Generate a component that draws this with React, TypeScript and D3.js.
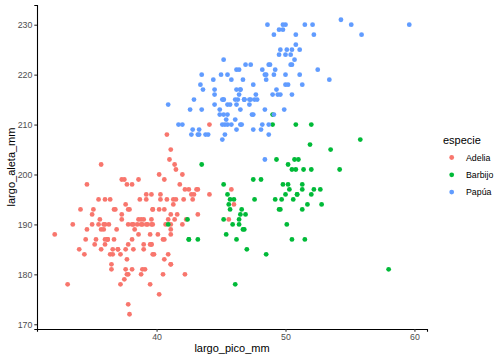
import React, { useEffect, useRef } from 'react'
import * as d3 from 'd3'

// [largo_pico_mm, largo_aleta_mm]
const adelia: [number, number][] = [
  [39.1, 181], [39.5, 186], [40.3, 195], [36.7, 193], [39.3, 190], [38.9, 181], [39.2, 195], [34.1, 193],
  [42.0, 190], [37.8, 186], [37.8, 180], [41.1, 182], [38.6, 191], [34.6, 198], [36.6, 185], [38.7, 195],
  [42.5, 197], [34.4, 184], [46.0, 194], [37.8, 174], [37.7, 180], [35.9, 189], [38.2, 185], [38.8, 180],
  [35.3, 187], [40.6, 183], [40.5, 187], [37.9, 172], [40.5, 180], [39.5, 178], [37.2, 178], [39.5, 188],
  [40.9, 184], [36.4, 195], [39.2, 196], [38.8, 190], [42.2, 180], [37.6, 181], [39.8, 184], [36.5, 182],
  [40.8, 195], [36.0, 186], [44.1, 196], [37.0, 185], [39.6, 190], [41.1, 182], [37.5, 179], [36.0, 190],
  [42.3, 191], [39.6, 186], [40.1, 188], [35.0, 190], [42.0, 200], [34.5, 187], [41.4, 191], [39.0, 186],
  [40.6, 193], [36.5, 181], [37.6, 194], [35.7, 185], [41.3, 195], [37.6, 185], [41.1, 192], [36.4, 184],
  [41.6, 192], [35.5, 195], [41.1, 188], [35.9, 190], [41.8, 198], [33.5, 190], [39.7, 190], [39.6, 196],
  [45.8, 197], [35.5, 190], [42.8, 195], [40.9, 191], [37.2, 184], [36.2, 187], [42.1, 195], [34.6, 189],
  [42.9, 196], [36.7, 187], [35.1, 193], [37.3, 191], [41.3, 194], [36.3, 190], [36.9, 189], [38.3, 189],
  [38.9, 190], [35.7, 202], [41.1, 205], [34.0, 185], [39.6, 186], [36.2, 187], [40.8, 208], [38.1, 190],
  [40.3, 196], [33.1, 178], [43.2, 192], [35.0, 192], [41.0, 203], [37.7, 183], [37.8, 190], [37.9, 193],
  [39.7, 184], [38.6, 199], [38.2, 190], [38.1, 181], [43.2, 197], [38.1, 198], [45.6, 191], [39.7, 193],
  [42.2, 197], [39.6, 191], [42.7, 196], [38.6, 188], [37.3, 199], [35.7, 189], [41.1, 189], [36.2, 187],
  [37.7, 198], [40.2, 176], [41.4, 202], [35.2, 186], [40.6, 199], [38.8, 191], [41.5, 195], [39.0, 191],
  [44.1, 210], [38.5, 190], [43.1, 197], [36.8, 193], [37.5, 199], [38.1, 187], [41.1, 190], [35.6, 191],
  [40.2, 200], [37.0, 185], [39.7, 193], [40.2, 193], [40.6, 187], [32.1, 188], [40.7, 190], [37.3, 192],
  [39.0, 185], [39.2, 190], [36.6, 184], [36.0, 195], [37.8, 193], [36.0, 187], [41.5, 201],
]

const barbijo: [number, number][] = [
  [46.5, 192], [50.0, 196], [51.3, 193], [45.4, 188], [52.7, 197], [45.2, 198], [46.1, 178], [51.3, 197],
  [46.0, 195], [51.3, 198], [46.6, 193], [51.7, 194], [47.0, 185], [52.0, 201], [45.9, 190], [50.5, 201],
  [50.3, 197], [58.0, 181], [46.4, 190], [49.2, 195], [42.4, 191], [48.5, 184], [43.2, 187], [50.6, 195],
  [46.7, 189], [52.0, 196], [50.5, 187], [49.5, 193], [46.4, 191], [52.8, 194], [40.9, 190], [54.2, 201],
  [42.5, 187], [51.0, 203], [49.7, 195], [47.5, 199], [47.6, 195], [52.0, 210], [46.9, 192], [53.5, 205],
  [49.0, 210], [46.2, 187], [50.9, 196], [45.5, 196], [50.9, 196], [50.8, 201], [50.1, 190], [49.0, 212],
  [51.5, 187], [49.8, 198], [48.1, 199], [51.4, 201], [45.7, 193], [50.7, 203], [42.5, 187], [52.2, 197],
  [45.2, 191], [49.3, 203], [50.2, 202], [45.6, 194], [51.9, 206], [46.8, 189], [45.7, 195], [55.8, 207],
  [43.5, 202], [49.6, 193], [50.8, 210], [50.2, 198],
]

const papua: [number, number][] = [
  [46.1, 211], [50.0, 230], [48.7, 210], [50.0, 218], [47.6, 215], [46.5, 210], [45.4, 211], [46.7, 219],
  [43.3, 209], [46.8, 215], [40.9, 214], [49.0, 216], [45.5, 214], [48.4, 213], [45.8, 210], [49.3, 217],
  [42.0, 210], [49.2, 221], [46.2, 209], [48.7, 222], [50.2, 218], [45.1, 215], [46.5, 213], [46.3, 215],
  [42.9, 215], [46.1, 215], [44.5, 216], [47.8, 215], [48.2, 210], [50.0, 220], [47.3, 222], [42.8, 209],
  [45.1, 207], [59.6, 230], [49.1, 220], [48.4, 220], [42.6, 213], [44.4, 219], [44.0, 208], [48.7, 208],
  [42.7, 208], [49.6, 225], [45.3, 210], [49.6, 216], [50.5, 222], [43.6, 217], [45.5, 210], [50.5, 225],
  [44.9, 213], [45.2, 215], [46.6, 210], [48.5, 220], [45.1, 210], [50.1, 225], [46.5, 217], [45.0, 220],
  [43.8, 208], [45.5, 220], [43.2, 208], [50.4, 224], [45.3, 208], [46.2, 221], [45.7, 214], [54.3, 231],
  [45.8, 219], [49.8, 230], [46.2, 214], [49.5, 229], [43.5, 220], [50.7, 223], [47.7, 216], [46.4, 221],
  [48.2, 221], [46.5, 217], [46.4, 216], [48.6, 230], [47.5, 209], [51.1, 220], [45.2, 215], [45.2, 223],
  [49.1, 212], [52.5, 221], [47.4, 212], [50.0, 224], [44.9, 212], [50.8, 228], [43.4, 218], [51.3, 218],
  [47.5, 212], [52.1, 230], [47.5, 218], [52.2, 228], [45.5, 212], [49.5, 224], [44.5, 214], [50.8, 226],
  [49.4, 216], [46.9, 222], [48.4, 203], [51.1, 225], [48.5, 219], [55.9, 228], [47.2, 215], [49.1, 228],
  [47.3, 215], [46.8, 215], [41.7, 210], [53.4, 219], [43.3, 208], [48.1, 209], [50.5, 216], [49.8, 229],
  [43.5, 213], [51.5, 230], [46.2, 217], [55.1, 230], [44.5, 217], [48.8, 222], [47.2, 214], [46.8, 215],
  [50.4, 222], [45.2, 212], [49.9, 213],
]

const especies = ['Adelia', 'Barbijo', 'Papúa']
const colores = ['#F8766D', '#00BA38', '#619CFF']
const xTicks = [40, 50, 60]
const yTicks = [170, 180, 190, 200, 210, 220, 230]

export default function App() {
  const ref = useRef<SVGSVGElement>(null)

  useEffect(() => {
    const width = 504
    const height = 360
    const margin = { top: 5, right: 77, bottom: 31, left: 37 }
    const font = '"Liberation Sans", Arial, sans-serif'

    const svg = d3.select(ref.current)
    svg.selectAll('*').remove()

    const series = [adelia, barbijo, papua]
    const all = series.flat()
    const xExt = d3.extent(all, d => d[0]) as [number, number]
    const yExt = d3.extent(all, d => d[1]) as [number, number]
    const xPad = (xExt[1] - xExt[0]) * 0.05
    const yPad = (yExt[1] - yExt[0]) * 0.05

    const x = d3.scaleLinear()
      .domain([xExt[0] - xPad, xExt[1] + xPad])
      .range([margin.left, width - margin.right])
    const y = d3.scaleLinear()
      .domain([yExt[0] - yPad, yExt[1] + yPad])
      .range([height - margin.bottom, margin.top])

    const chart = svg.append('g').style('font-family', font)

    series.forEach((pts, i) => {
      chart.append('g')
        .selectAll('circle')
        .data(pts)
        .enter()
        .append('circle')
        .attr('cx', d => x(d[0]))
        .attr('cy', d => y(d[1]))
        .attr('r', 2.4)
        .attr('fill', colores[i])
    })

    const xAxis = chart.append('g')
      .attr('transform', `translate(0, ${height - margin.bottom})`)
      .call(d3.axisBottom(x).tickValues(xTicks).tickSize(2.7).tickPadding(2))
    const yAxis = chart.append('g')
      .attr('transform', `translate(${margin.left}, 0)`)
      .call(d3.axisLeft(y).tickValues(yTicks).tickSize(2.7).tickPadding(2))

    ;[xAxis, yAxis].forEach(a => {
      a.select('.domain').attr('stroke', '#000').attr('stroke-width', 1.1)
      a.selectAll('.tick line').attr('stroke', '#333').attr('stroke-width', 1.1)
      a.selectAll('.tick text')
        .attr('fill', '#4D4D4D')
        .style('font-size', '8.8px')
        .style('font-family', font)
    })

    chart.append('text')
      .attr('x', (margin.left + width - margin.right) / 2)
      .attr('y', height - 8)
      .attr('text-anchor', 'middle')
      .style('font-size', '11px')
      .text('largo_pico_mm')

    chart.append('text')
      .attr('transform', `translate(15, ${(margin.top + height - margin.bottom) / 2}) rotate(-90)`)
      .attr('text-anchor', 'middle')
      .style('font-size', '11px')
      .text('largo_aleta_mm')

    const legend = chart.append('g').attr('transform', 'translate(443, 0)')
    legend.append('text')
      .attr('x', 0)
      .attr('y', 144)
      .style('font-size', '11px')
      .text('especie')

    especies.forEach((e, i) => {
      const cy = 157.5 + i * 17.3
      legend.append('circle')
        .attr('cx', 8.7)
        .attr('cy', cy)
        .attr('r', 2.4)
        .attr('fill', colores[i])
      legend.append('text')
        .attr('x', 23)
        .attr('y', cy + 3)
        .style('font-size', '8.8px')
        .text(e)
    })
  }, [])

  return (
    <svg ref={ref} width={504} height={360}
      style={{ position: 'absolute', left: 0, top: 0, background: '#fff' }} />
  )
}
